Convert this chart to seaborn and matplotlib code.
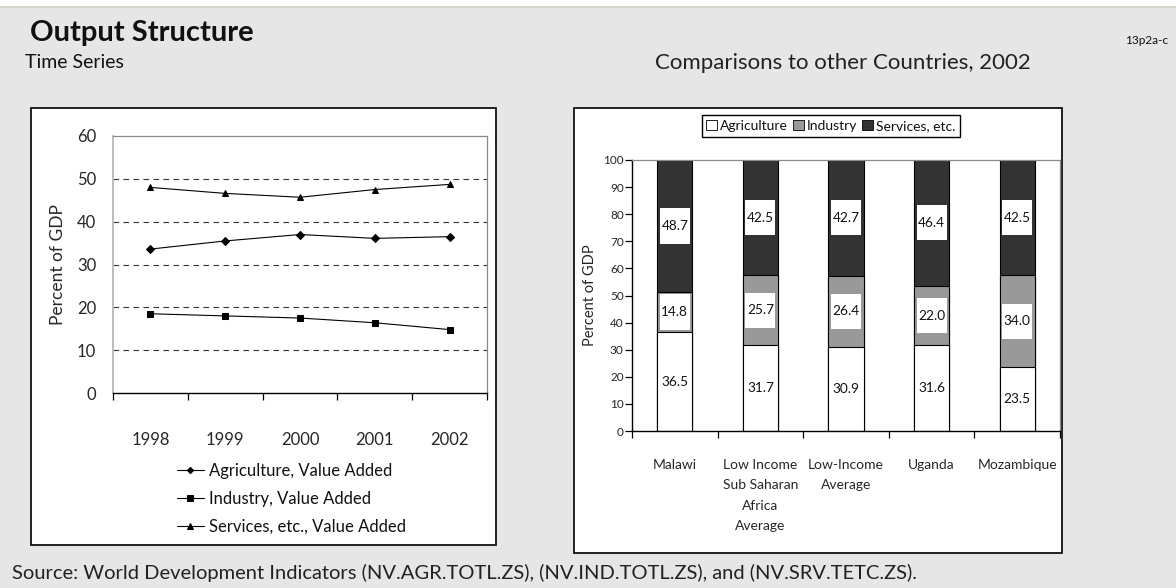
import matplotlib
matplotlib.use("Agg")
import matplotlib.pyplot as plt
from matplotlib.patches import Rectangle, Patch
import numpy as np
import pandas as pd
import seaborn as sns

# ---- data -------------------------------------------------------------
years = ["1998", "1999", "2000", "2001", "2002"]
agriculture_ts = [33.6, 35.5, 37.0, 36.1, 36.5]
industry_ts = [18.5, 18.0, 17.5, 16.4, 14.8]
services_ts = [48.0, 46.6, 45.7, 47.5, 48.7]
series_names = ["Agriculture, Value Added", "Industry, Value Added",
                "Services, etc., Value Added"]

regions = ["Malawi", "Low Income\nSub Saharan\nAfrica\nAverage",
           "Low-Income\nAverage", "Uganda", "Mozambique"]
agriculture_02 = [36.5, 31.7, 30.9, 31.6, 23.5]
industry_02 = [14.8, 25.7, 26.4, 22.0, 34.0]
services_02 = [48.7, 42.5, 42.7, 46.4, 42.5]
sector_names = ["Agriculture", "Industry", "Services, etc."]

yticks_left = [0, 10, 20, 30, 40, 50, 60]
yticks_right = list(range(0, 101, 10))

# ---- style ------------------------------------------------------------
sns.set_theme(style="white")
plt.rcParams["font.family"] = ["Lato", "DejaVu Sans"]
plt.rcParams["text.color"] = "#111111"

BG = "#e6e6e6"
W, H = 1176, 588
fig = plt.figure(figsize=(W / 100, H / 100), dpi=100, facecolor=BG)


def fx(px):
    return px / W


def fy(py):
    return 1 - py / H


# white strip along the top edge
fig.patches.append(Rectangle((0, fy(7)), 1, 7 / H, transform=fig.transFigure,
                             facecolor="white", edgecolor="none", zorder=-2))
fig.lines.append(plt.Line2D([0, 1], [fy(7), fy(7)], transform=fig.transFigure,
                            color="#d3cfc7", lw=1.2, zorder=-1))

# panel frames
for (x0, y0, x1, y1) in [(31, 108, 496, 545), (574, 108, 1062, 553)]:
    fig.patches.append(Rectangle((fx(x0), fy(y1)), fx(x1 - x0), (y1 - y0) / H,
                                 transform=fig.transFigure, facecolor="white",
                                 edgecolor="#111111", lw=1.3, zorder=-1))

# headings
fig.text(fx(30), fy(33), "Output Structure", fontsize=21, fontweight="bold",
         va="center", ha="left")
fig.text(fx(1168), fy(40), "13p2a-c", fontsize=8.5, va="center", ha="right")
fig.text(fx(25), fy(63), "Time Series", fontsize=14, va="center", ha="left")
fig.text(fx(655), fy(63), "Comparisons to other Countries, 2002", fontsize=16,
         va="center", ha="left", color="#222222")
fig.text(fx(12), fy(573),
         "Source: World Development Indicators (NV.AGR.TOTL.ZS), "
         "(NV.IND.TOTL.ZS), and (NV.SRV.TETC.ZS).",
         fontsize=14.5, va="center", ha="left", color="#222222")

# ---- left: time series ------------------------------------------------
axL = fig.add_axes([fx(113), fy(393), fx(487 - 113), (393 - 136) / H])
axL.set_zorder(2)
ts = pd.DataFrame({
    "Year": years * 3,
    "Value": agriculture_ts + industry_ts + services_ts,
    "Series": np.repeat(series_names, len(years)),
})
marker_map = {series_names[0]: "D", series_names[1]: "s", series_names[2]: "^"}
sns.lineplot(data=ts, x="Year", y="Value", style="Series",
             markers=marker_map, dashes=False, color="black", linewidth=0.8,
             markersize=4.2, markeredgecolor="black", ax=axL)
handles, labels = axL.get_legend_handles_labels()
axL.get_legend().remove()
for line in axL.lines:
    if line.get_marker() == "D":
        line.set_markersize(3.6)
for h in handles:
    h.set_markersize(3.2 if h.get_marker() == "D" else 3.8)

axL.set_xlim(-0.5, len(years) - 0.5)
axL.set_ylim(0, 60)
axL.set_yticks(yticks_left)
axL.set_xlabel("")
axL.set_ylabel("Percent of GDP", fontsize=12.5, labelpad=8)
for v in yticks_left[1:-1]:
    axL.axhline(v, color="#333333", lw=0.8, dashes=(5, 4), zorder=0)
axL.set_xticks(np.arange(len(years)))
axL.set_xticklabels(years)
axL.set_xticks(np.arange(-0.5, len(years)), minor=True)
axL.tick_params(axis="x", which="major", length=0, pad=28, labelsize=12)
axL.tick_params(axis="x", which="minor", length=5, width=0.9, color="black",
                direction="out", bottom=True)
axL.tick_params(axis="y", length=0, pad=12, labelsize=12)
axL.spines["bottom"].set_color("black")
axL.spines["bottom"].set_linewidth(1.0)
axL.spines["left"].set_color("#b5b5b5")
for s in ("top", "right"):
    axL.spines[s].set_color("#8a8a8a")
    axL.spines[s].set_linewidth(0.9)
axL.set_facecolor("white")

axL.legend(handles, labels, loc="upper left",
           bbox_to_anchor=(fx(177), fy(463)), bbox_transform=fig.transFigure,
           frameon=False, fontsize=12, handlelength=1.6, handletextpad=0.3,
           labelspacing=0.72, borderaxespad=0, borderpad=0)

# ---- right: stacked bars ----------------------------------------------
axR = fig.add_axes([fx(632), fy(431), fx(1060 - 632), (431 - 160) / H])
axR.set_zorder(2)
agr = np.array(agriculture_02)
ind = np.array(industry_02)
srv = np.array(services_02)
colors = ["white", "#999999", "#333333"]
layers = [agr + ind + srv, agr + ind, agr]
for vals, c in zip(layers, colors[::-1]):
    sns.barplot(x=regions, y=vals, order=regions, color=c, saturation=1,
                width=0.41, edgecolor="black", linewidth=0.8, ax=axR)

# value labels on white boxes at the middle of each segment
bottoms = [np.zeros_like(agr), agr, agr + ind]
for seg, base in zip([agr, ind, srv], bottoms):
    for i, (v, b) in enumerate(zip(seg, base)):
        yc = b + v / 2
        axR.add_patch(Rectangle((i - 0.175, yc - 6.5), 0.35, 13,
                                facecolor="white", edgecolor="none", zorder=5))
        axR.text(i, yc, f"{v:.1f}", ha="center", va="center", fontsize=9.8,
                 zorder=6)

axR.set_xlim(-0.5, len(regions) - 0.5)
axR.set_ylim(0, 100)
axR.set_yticks(yticks_right)
axR.set_ylabel("Percent of GDP", fontsize=10.5, labelpad=4)
axR.set_xlabel("")
axR.set_xticks(np.arange(len(regions)))
axR.set_xticklabels(regions, linespacing=1.85, va="top")
axR.set_xticks(np.arange(-0.5, len(regions)), minor=True)
axR.tick_params(axis="x", which="major", length=0, pad=20, labelsize=10)
axR.tick_params(axis="x", which="minor", length=5, width=0.9, color="black",
                direction="out", bottom=True)
axR.tick_params(axis="y", length=5, width=0.9, color="black", direction="out",
                left=True, pad=1, labelsize=8.5)
for s in ("bottom", "left"):
    axR.spines[s].set_color("black")
    axR.spines[s].set_linewidth(1.0)
for s in ("top", "right"):
    axR.spines[s].set_color("#8a8a8a")
    axR.spines[s].set_linewidth(0.9)
axR.set_facecolor("white")

leg_handles = [Patch(facecolor=c, edgecolor="black", linewidth=0.6)
               for c in colors]
fig.legend(leg_handles, sector_names, loc="center",
           bbox_to_anchor=(fx(831), fy(126)), ncol=3, fontsize=10,
           frameon=True, fancybox=False, edgecolor="black", framealpha=1,
           handlelength=0.75, handleheight=0.75, handletextpad=0.25,
           columnspacing=0.35, borderpad=0.35)

fig.savefig("out.png", dpi=100, facecolor=BG)
